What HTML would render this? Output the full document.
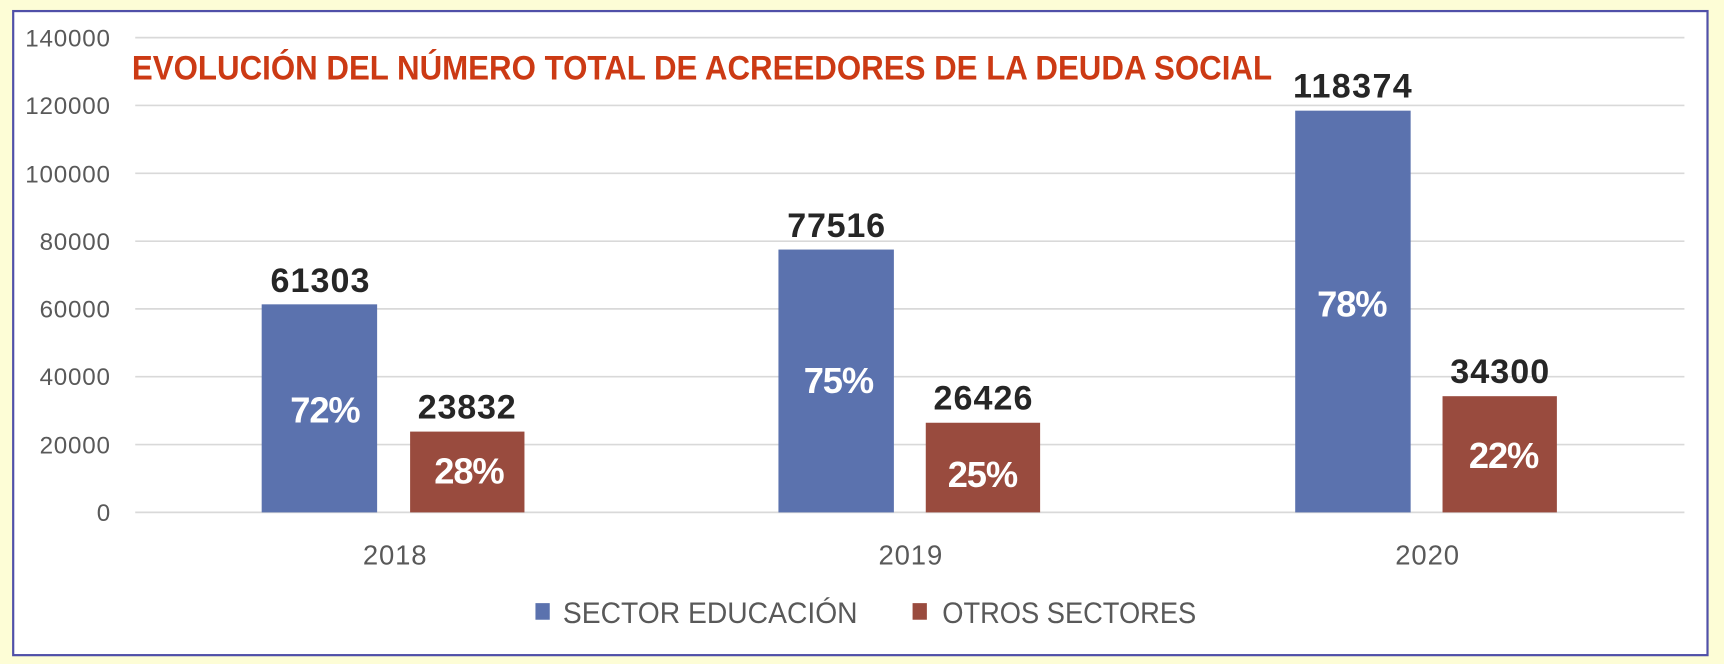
<!DOCTYPE html>
<html><head><meta charset="utf-8"><style>
html,body{margin:0;padding:0;background:#fdfdd6;}
svg{display:block;}
</style></head><body>
<svg width="1724" height="664" viewBox="0 0 1568 600" preserveAspectRatio="none" xmlns="http://www.w3.org/2000/svg" font-family="Liberation Sans, sans-serif">
<rect x="0" y="0" width="1568" height="600" fill="#fdfdd6"/>
<rect x="12" y="10" width="1541" height="582" fill="#fff" stroke="#5050a8" stroke-width="2"/>
<g stroke="#d9d9d9" stroke-width="1.5">
<line x1="123" x2="1532" y1="34" y2="34"/>
<line x1="123" x2="1532" y1="95.3" y2="95.3"/>
<line x1="123" x2="1532" y1="156.6" y2="156.6"/>
<line x1="123" x2="1532" y1="217.9" y2="217.9"/>
<line x1="123" x2="1532" y1="279.1" y2="279.1"/>
<line x1="123" x2="1532" y1="340.4" y2="340.4"/>
<line x1="123" x2="1532" y1="401.7" y2="401.7"/>
<line x1="123" x2="1532" y1="463" y2="463"/>
</g>
<g font-size="22" fill="#595959" lengthAdjust="spacingAndGlyphs">
<text x="23" y="42" textLength="77">140000</text>
<text x="23" y="103" textLength="77">120000</text>
<text x="23" y="165" textLength="77">100000</text>
<text x="36" y="226" textLength="64">80000</text>
<text x="36" y="287" textLength="64">60000</text>
<text x="36" y="348" textLength="64">40000</text>
<text x="36" y="410" textLength="64">20000</text>
<text x="88" y="471" textLength="12">0</text>
</g>
<text x="120" y="72" font-size="31" font-weight="bold" fill="#cc3a14" textLength="1037" lengthAdjust="spacingAndGlyphs">EVOLUCIÓN DEL NÚMERO TOTAL DE ACREEDORES DE LA DEUDA SOCIAL</text>
<g fill="#5b72ae">
<rect x="238" y="275" width="105" height="188"/>
<rect x="708" y="225.5" width="105" height="237.5"/>
<rect x="1178" y="100" width="105" height="363"/>
</g>
<g fill="#994b3e">
<rect x="373" y="390" width="104" height="73"/>
<rect x="842" y="382" width="104" height="81"/>
<rect x="1312" y="358" width="104" height="105"/>
</g>
<g font-size="31" font-weight="bold" fill="#262626" lengthAdjust="spacingAndGlyphs">
<text x="246" y="264" textLength="90">61303</text>
<text x="380" y="378" textLength="89">23832</text>
<text x="716" y="214" textLength="89">77516</text>
<text x="849" y="370" textLength="90">26426</text>
<text x="1176" y="88" textLength="108">118374</text>
<text x="1319" y="346" textLength="90">34300</text>
</g>
<g font-size="33" font-weight="bold" fill="#fff" lengthAdjust="spacingAndGlyphs">
<text x="264" y="382" textLength="64">72%</text>
<text x="395" y="437" textLength="64">28%</text>
<text x="731" y="355" textLength="64">75%</text>
<text x="862" y="440" textLength="64">25%</text>
<text x="1198" y="286" textLength="64">78%</text>
<text x="1336" y="423" textLength="64">22%</text>
</g>
<g font-size="25" fill="#595959" lengthAdjust="spacingAndGlyphs">
<text x="330" y="510" textLength="58">2018</text>
<text x="799" y="510" textLength="58">2019</text>
<text x="1269" y="510" textLength="58">2020</text>
</g>
<rect x="487" y="545" width="13" height="15" fill="#5b72ae"/>
<text x="512" y="563" font-size="27" fill="#595959" textLength="268" lengthAdjust="spacingAndGlyphs">SECTOR EDUCACIÓN</text>
<rect x="830" y="545" width="13" height="15" fill="#994b3e"/>
<text x="857" y="563" font-size="27" fill="#595959" textLength="231" lengthAdjust="spacingAndGlyphs">OTROS SECTORES</text>
</svg>
</body></html>
